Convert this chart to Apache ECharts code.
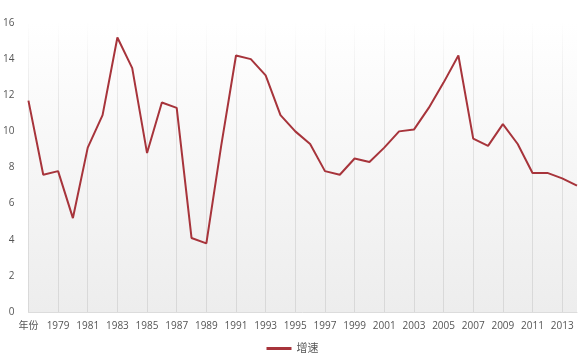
<!DOCTYPE html>
<html><head><meta charset="utf-8">
<script src="https://cdn.jsdelivr.net/npm/echarts@6/dist/echarts.min.js"></script>
<style>html,body{margin:0;padding:0;background:#fff}#c{width:585px;height:357px}</style>
</head><body><div id="c"></div>
<script>
var categories = ['年份','1978','1979','1980','1981','1982','1983','1984','1985','1986','1987','1988','1989','1990','1991','1992','1993','1994','1995','1996','1997','1998','1999','2000','2001','2002','2003','2004','2005','2006','2007','2008','2009','2010','2011','2012','2013','2014'];
var growth = [11.7,7.6,7.8,5.2,9.1,10.9,15.2,13.5,8.8,11.6,11.3,4.1,3.8,9.2,14.2,14.0,13.1,10.9,10.0,9.3,7.8,7.6,8.5,8.3,9.1,10.0,10.1,11.3,12.7,14.2,9.6,9.2,10.4,9.3,7.7,7.7,7.4,7.0];
var seriesName = '增速';
var chart = echarts.init(document.getElementById('c'));
chart.setOption({
  animation:false,
  textStyle:{fontFamily:'"Open Sans","Noto Sans CJK SC",sans-serif'},
  grid:{left:28,right:8,top:23,bottom:45,show:true,borderWidth:0,
    backgroundColor:{type:'linear',x:0,y:0,x2:0,y2:1,colorStops:[{offset:0,color:'#ffffff'},{offset:1,color:'#ededed'}]}},
  legend:{bottom:-2,left:'center',itemWidth:25,itemHeight:3,icon:'rect',itemGap:10,
    textStyle:{color:'#555',fontSize:11},data:[seriesName]},
  xAxis:{type:'category',data:categories,boundaryGap:false,
    axisLine:{lineStyle:{color:'#dcdcdc'}},axisTick:{show:false},
    axisLabel:{interval:1,color:'#555',fontSize:10,margin:9},
    splitLine:{show:true,lineStyle:{width:1,color:{type:'linear',x:0,y:0,x2:0,y2:1,colorStops:[{offset:0,color:'rgba(215,215,215,0)'},{offset:0.3,color:'rgba(215,215,215,0.6)'},{offset:1,color:'#d8d8d8'}]}}}},
  yAxis:{type:'value',min:0,max:16,interval:2,
    axisLine:{show:false},axisTick:{show:false},splitLine:{show:false},
    axisLabel:{color:'#555',fontSize:10,margin:14}},
  series:[{name:seriesName,type:'line',data:growth,symbol:'none',
    lineStyle:{color:'#a7343b',width:2},itemStyle:{color:'#a7343b'}}]
});
</script></body></html>
